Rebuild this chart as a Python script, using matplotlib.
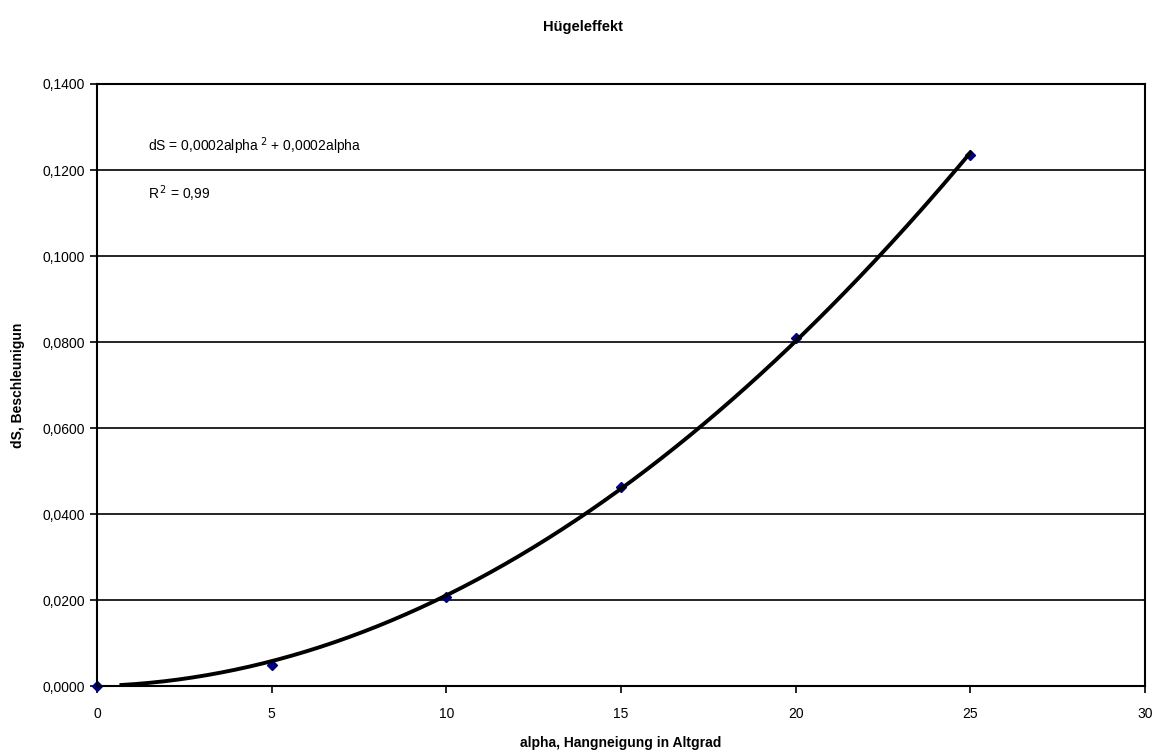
import numpy as np
import matplotlib
matplotlib.use("Agg")
import matplotlib.pyplot as plt
from matplotlib.ticker import FuncFormatter

alpha = [0, 5, 10, 15, 20, 25]
dS = [0.0, 0.0050, 0.0207, 0.0463, 0.0809, 0.1235]
x_ticks = [0, 5, 10, 15, 20, 25, 30]
y_ticks = [0.0, 0.02, 0.04, 0.06, 0.08, 0.10, 0.12, 0.14]

plt.rcParams['font.family'] = ['Liberation Sans', 'DejaVu Sans']

fig = plt.figure(figsize=(11.66, 7.56), dpi=100)
ax = fig.add_axes([97/1166, 70/756, 1048/1166, 602/756])

# trendline: 2nd order polynomial through the origin (least squares)
a = np.array(alpha, float); d = np.array(dS, float)
A = np.vstack([a**2, a]).T
coef, *_ = np.linalg.lstsq(A, d, rcond=None)
xs = np.linspace(0.7, 25, 300)
ax.plot(xs, coef[0]*xs**2 + coef[1]*xs, color='black', lw=2.8, zorder=3)

ax.plot(alpha, dS, linestyle='none', marker='D', markersize=5,
        color='#000080', zorder=2, clip_on=False)

ax.set_xlim(0, 30)
ax.set_ylim(0, 0.14)
ax.set_xticks(x_ticks)
ax.set_yticks(y_ticks)
ax.yaxis.set_major_formatter(FuncFormatter(lambda v, p: f"{v:.4f}".replace('.', ',')))
ax.grid(axis='y', color='black', lw=1.2)
ax.set_axisbelow(True)
for s in ax.spines.values():
    s.set_color('black'); s.set_linewidth(1.5)
ax.tick_params(direction='out', length=5, width=1.2, labelsize=10, colors='black')
ax.tick_params(axis='x', pad=10)

ax.set_xlabel('alpha, Hangneigung in Altgrad', fontsize=10, fontweight='bold', labelpad=11)
ax.set_ylabel('dS, Beschleunigun', fontsize=10, fontweight='bold', labelpad=13)
fig.text(0.5, 1 - 27/756, 'Hügeleffekt', ha='center', va='center', fontsize=10.5, fontweight='bold')

ax.text(1.45, 0.1255, r'dS = 0,0002alpha$^{\,\,2}$ + 0,0002alpha', fontsize=10, va='center')
ax.text(1.45, 0.1145, r'R$^{\,2}$ = 0,99', fontsize=10, va='center')

fig.savefig('out.png', dpi=100)
